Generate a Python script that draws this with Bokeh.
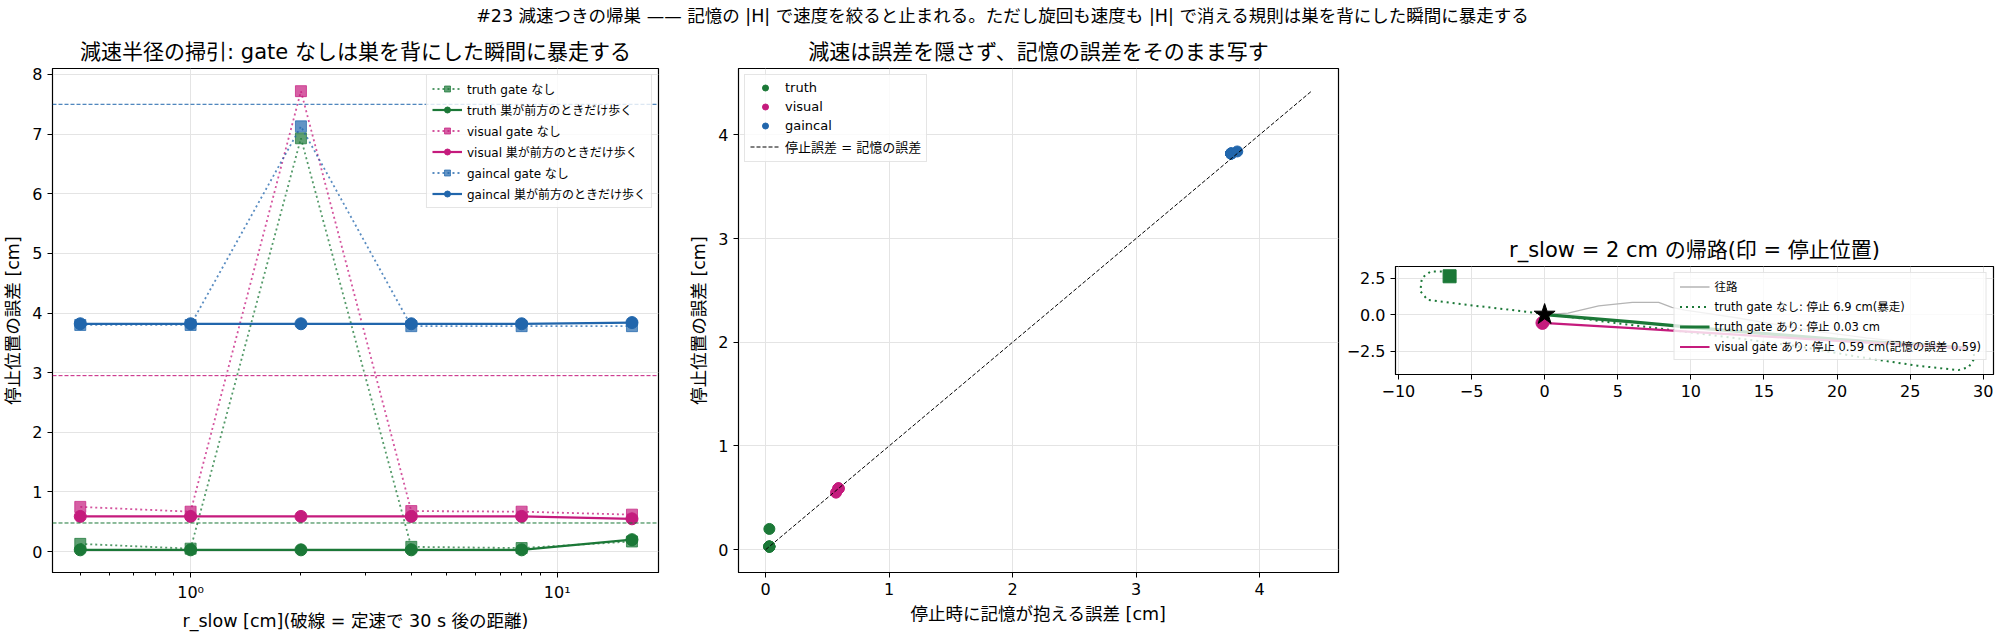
from bokeh.plotting import figure
from bokeh.layouts import row, column
from bokeh.models import Range1d, Span, FixedTicker, Div, Spacer
from bokeh.embed import file_html
from bokeh.resources import INLINE

FONT = "DejaVu Sans, Noto Sans CJK JP"
GREEN = "#1b7837"
MAGENTA = "#c51b7d"
BLUE = "#2166ac"

SUPTITLE = "#23 減速つきの帰巣 —— 記憶の |H| で速度を絞ると止まれる。ただし旋回も速度も |H| で消える規則は巣を背にした瞬間に暴走する"

# --- sweep over r_slow (left panel) ---
r_slow = [0.5, 1, 2, 4, 8, 16]
truth_nogate = [0.13, 0.05, 6.93, 0.08, 0.06, 0.17]
truth_gate = [0.03, 0.03, 0.03, 0.03, 0.03, 0.20]
visual_nogate = [0.75, 0.67, 7.72, 0.68, 0.67, 0.62]
visual_gate = [0.59, 0.59, 0.59, 0.59, 0.59, 0.55]
gaincal_nogate = [3.80, 3.80, 7.13, 3.78, 3.78, 3.78]
gaincal_gate = [3.82, 3.82, 3.82, 3.82, 3.82, 3.84]
cruise_30s = [0.48, 2.95, 7.50]  # truth, visual, gaincal

# --- memory error at stop (middle panel, gate on) ---
truth_mem = [0.03, 0.03, 0.03, 0.03, 0.03, 0.03]
visual_mem = [0.59, 0.59, 0.59, 0.59, 0.59, 0.57]
gaincal_mem = [3.77, 3.77, 3.77, 3.77, 3.77, 3.82]
diag = [0.0, 4.42]

# --- homing paths for r_slow = 2 cm (right panel) ---
out_x = [0, 1.6, 3.7, 6.0, 7.8, 8.7, 9.6, 11.0, 13.0, 16.0, 19.0, 22.0, 25.0, 27.5, 28.8]
out_y = [0, 0.1, 0.6, 0.83, 0.83, 0.5, 0.3, 0.1, -0.2, -0.7, -1.2, -1.6, -1.9, -2.1, -2.25]
tn_x = [28.8, 29.3, 29.4, 29.0, 28.3, 25.5, 21.5, 17.5, 13.0, 9.0, 5.0, 2.0, 0.0, -3.0, -6.0, -8.0, -8.5, -8.4, -7.8, -7.0, -6.5]
tn_y = [-2.25, -2.4, -3.0, -3.6, -3.8, -3.5, -2.9, -2.2, -1.6, -1.1, -0.6, -0.2, 0.05, 0.4, 0.75, 1.0, 1.6, 2.5, 2.95, 2.95, 2.62]
tg_x = [28.8, 20.0, 12.0, 6.0, 0.03]
tg_y = [-2.3, -1.7, -1.05, -0.5, 0.0]
vg_x = [28.8, 20.0, 12.0, 6.0, -0.15]
vg_y = [-2.3, -1.8, -1.3, -0.93, -0.57]
stop_tn = ([-6.5], [2.62])
stop_vg = ([-0.15], [-0.57])
nest = ([0.0], [0.0])


def style(p):
    p.title.text_font = FONT
    p.title.text_font_size = "21px"
    p.title.text_font_style = "normal"
    p.title.text_color = "black"
    p.title.align = "center"
    p.outline_line_color = "black"
    p.outline_line_width = 1.2
    p.background_fill_color = "white"
    for ax in p.axis:
        ax.major_label_text_font = FONT
        ax.major_label_text_font_size = "16px"
        ax.major_label_text_color = "black"
        ax.axis_label_text_font = FONT
        ax.axis_label_text_font_size = "17.5px"
        ax.axis_label_text_font_style = "normal"
        ax.axis_label_text_color = "black"
        ax.axis_label_standoff = 6
        ax.major_tick_in = 0
        ax.major_tick_out = 5
        ax.minor_tick_in = 0
        ax.minor_tick_out = 3
        ax.axis_line_color = "black"
    p.grid.grid_line_color = "#e4e4e4"


def style_legend(p, loc, size="12px"):
    lg = p.legend[0]
    lg.location = loc
    lg.label_text_font = FONT
    lg.label_text_font_size = size
    lg.label_text_color = "black"
    lg.label_height = 15
    lg.glyph_height = 15
    lg.glyph_width = 30
    lg.spacing = 4
    lg.padding = 5
    lg.margin = 6
    lg.border_line_color = "#cccccc"
    lg.background_fill_alpha = 0.8


# left panel
p1 = figure(frame_width=606, frame_height=504, x_axis_type="log",
            x_range=Range1d(0.42, 18.9), y_range=Range1d(-0.35, 8.1),
            min_border_left=48, min_border_right=5, min_border_top=36, min_border_bottom=50,
            title="減速半径の掃引: gate なしは巣を背にした瞬間に暴走する",
            x_axis_label="r_slow [cm](破線 = 定速で 30 s 後の距離)",
            y_axis_label="停止位置の誤差 [cm]",
            output_backend="svg", toolbar_location=None)
style(p1)
series = [("truth", GREEN, truth_nogate, truth_gate),
          ("visual", MAGENTA, visual_nogate, visual_gate),
          ("gaincal", BLUE, gaincal_nogate, gaincal_gate)]
for name, c, ng, g in series:
    lab = f"{name} gate なし"
    p1.line(r_slow, ng, color=c, line_width=1.8, line_dash="2 3", alpha=0.75, legend_label=lab)
    p1.scatter(r_slow, ng, marker="square", size=11, color=c, fill_alpha=0.7, line_alpha=0.7, legend_label=lab)
    lab = f"{name} 巣が前方のときだけ歩く"
    p1.line(r_slow, g, color=c, line_width=2.2, legend_label=lab)
    p1.scatter(r_slow, g, marker="circle", size=12, color=c, legend_label=lab)
for v, c in zip(cruise_30s, [GREEN, MAGENTA, BLUE]):
    p1.add_layout(Span(location=v, dimension="width", line_color=c, line_width=1, line_dash="4 2"))
p1.xaxis.ticker = FixedTicker(ticks=[1, 10], minor_ticks=[0.5, 0.6, 0.7, 0.8, 0.9, 2, 3, 4, 5, 6, 7, 8, 9])
p1.xaxis.major_label_overrides = {1: "10⁰", 10: "10¹"}
p1.yaxis.ticker = FixedTicker(ticks=list(range(0, 9)))
style_legend(p1, "top_right", "12px")

# middle panel
p2 = figure(frame_width=600, frame_height=504,
            x_range=Range1d(-0.22, 4.64), y_range=Range1d(-0.22, 4.64),
            min_border_left=75, min_border_right=5, min_border_top=36, min_border_bottom=50,
            title="減速は誤差を隠さず、記憶の誤差をそのまま写す",
            x_axis_label="停止時に記憶が抱える誤差 [cm]",
            y_axis_label="停止位置の誤差 [cm]",
            output_backend="svg", toolbar_location=None)
style(p2)
p2.scatter(truth_mem, truth_gate, size=11, color=GREEN, legend_label="truth")
p2.scatter(visual_mem, visual_gate, size=11, color=MAGENTA, legend_label="visual")
p2.scatter(gaincal_mem, gaincal_gate, size=11, color=BLUE, legend_label="gaincal")
p2.line(diag, diag, color="black", line_width=1, line_dash="4 2", legend_label="停止誤差 = 記憶の誤差")
p2.xaxis.ticker = FixedTicker(ticks=[0, 1, 2, 3, 4])
p2.yaxis.ticker = FixedTicker(ticks=[0, 1, 2, 3, 4])
style_legend(p2, "top_left", "13px")

# right panel
p3 = figure(frame_width=598, frame_height=108,
            x_range=Range1d(-10.2, 30.7), y_range=Range1d(-4.1, 3.29),
            min_border_left=46, min_border_right=5, min_border_top=36, min_border_bottom=30,
            title="r_slow = 2 cm の帰路(印 = 停止位置)",
            output_backend="svg", toolbar_location=None)
style(p3)
p3.line(out_x, out_y, color="#b4b4b4", line_width=1.3, legend_label="往路")
p3.line(tn_x, tn_y, color=GREEN, line_width=2, line_dash="2 4", legend_label="truth gate なし: 停止 6.9 cm(暴走)")
p3.line(tg_x, tg_y, color=GREEN, line_width=3.2, legend_label="truth gate あり: 停止 0.03 cm")
p3.line(vg_x, vg_y, color=MAGENTA, line_width=2.2, legend_label="visual gate あり: 停止 0.59 cm(記憶の誤差 0.59)")
p3.scatter(stop_tn[0], stop_tn[1], marker="square", size=13, color=GREEN)
p3.scatter(stop_vg[0], stop_vg[1], marker="circle", size=13, color=MAGENTA)
p3.scatter(nest[0], nest[1], marker="star", size=22, color="black")
p3.xaxis.ticker = FixedTicker(ticks=[-10, -5, 0, 5, 10, 15, 20, 25, 30])
p3.xaxis.major_label_overrides = {-10: "−10", -5: "−5"}
p3.yaxis.ticker = FixedTicker(ticks=[-2.5, 0, 2.5])
p3.yaxis.major_label_overrides = {-2.5: "−2.5", 0: "0.0", 2.5: "2.5"}
style_legend(p3, "top_right", "11.5px")

head = Div(text=SUPTITLE, width=1995, height=22,
           styles={"font-size": "17.5px", "font-weight": "normal", "color": "black",
                   "text-align": "center", "font-family": FONT, "line-height": "22px"})

layout = column(head, row(p1, p2, column(Spacer(height=198), p3)))
open("out.html", "w").write(file_html(layout, INLINE))
